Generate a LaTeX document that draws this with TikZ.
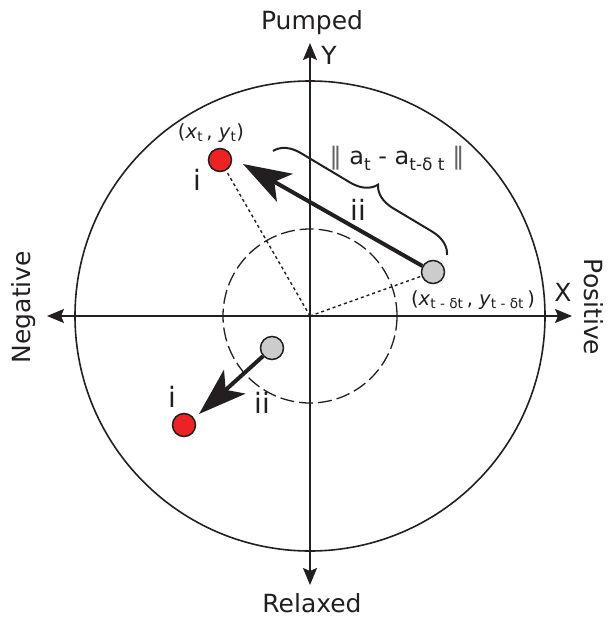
\documentclass[tikz,border=0pt]{standalone}
\usepackage{fontspec}
\setmainfont{DejaVu Sans}
\usetikzlibrary{arrows.meta,decorations.pathreplacing}
\definecolor{ink}{HTML}{231F20}
\definecolor{dotred}{HTML}{ED2224}
\definecolor{dotgray}{HTML}{CCCCCC}
\newcommand{\lowsub}[1]{\raisebox{-0.45ex}{\fontsize{17}{18}\selectfont #1}}
\tikzset{
  lbl/.style={text=ink, inner sep=0pt, font=\fontsize{25}{30}\selectfont},
  numlbl/.style={text=ink, inner sep=0pt, font=\fontsize{28}{32}\selectfont},
  small/.style={text=ink, inner sep=0pt, font=\fontsize{19.5}{22}\selectfont},
  axis/.style={draw=ink, line width=1.5pt, {Stealth[length=17pt,width=14pt,inset=3pt]}-{Stealth[length=17pt,width=14pt,inset=3pt]}},
  ring/.style={circle, draw=ink, line width=1.6pt, inner sep=0pt},
  dashring/.style={circle, draw=ink, line width=1.3pt, inner sep=0pt, dash pattern=on 14pt off 5pt},
  dotline/.style={draw=ink, line width=1.4pt, dash pattern=on 3pt off 3pt},
  reddot/.style={circle, draw=ink, fill=dotred, line width=1.5pt, minimum size=23pt, inner sep=0pt},
  graydot/.style={circle, draw=ink, fill=dotgray, line width=1.5pt, minimum size=23pt, inner sep=0pt},
  move/.style={draw=ink, line width=4pt, -{Stealth[length=48pt,width=32pt,inset=12pt]}},
}
\begin{document}
\begin{tikzpicture}[x=1pt,y=-1pt]
\useasboundingbox (0,0) rectangle (608,617);
\coordinate (o) at (310,316);
\coordinate (xl) at (47,316);
\coordinate (xr) at (572,316);
\coordinate (yt) at (310,43);
\coordinate (yb) at (310,585);
% circles
\node[ring, minimum size=470pt] (big) at (o) {};
\node[dashring, minimum size=174pt] (small) at (o) {};
% axes
\draw[axis] (xl) -- (xr);
\draw[axis] (yb) -- (yt);
% dots
\node[reddot] (r1) at (220,160) {};
\node[graydot] (g1) at (433,272) {};
\node[graydot] (g2) at (272,348) {};
\node[reddot] (r2) at (184,425) {};
% dotted radii
\draw[dotline] (o) -- (r1);
\draw[dotline] (o) -- (g1);
% movement arrows
\coordinate (t1) at (243,164);
\coordinate (t2) at (199,414);
\draw[move] (g1) -- (t1);
\draw[move] (g2) -- (t2);
% brace
\coordinate (b1) at (273,151);
\coordinate (b2) at (447,255);
\draw[draw=ink, line width=2pt, decorate, decoration={brace, amplitude=25pt, aspect=0.53}] (b1) -- (b2);
% labels
\node[lbl] (pumped) at (312,23) {Pumped};
\node[lbl] (relaxed) at (312,603) {Relaxed};
\node[lbl] (ylab) at (329,55) {Y};
\node[lbl] (xlab) at (563,292) {X};
\node[lbl, rotate=90] (neg) at (24,307) {Negative};
\node[lbl, rotate=-90] (pos) at (594,307) {Positive};
\node[numlbl] (i1) at (197,180) {i};
\node[numlbl] (ii1) at (358,210) {ii};
\node[numlbl] (i2) at (172,397) {i};
\node[numlbl] (ii2) at (262,403) {ii};
\node[small] (xy1) at (211,133) {(\textit{x}\textsubscript{t}\,, \textit{y}\textsubscript{t})};
\node[small] (xy2) at (473,300) {(\textit{x}\textsubscript{t - δt}\,, \textit{y}\textsubscript{t - δt}\,)};
\node[text=ink, inner sep=0pt, font=\fontsize{24}{28}\selectfont] (norm) at (397,158) {{\color{ink!70}‖} a\lowsub{t} - a\lowsub{t-δ t} {\color{ink!70}‖}};
\end{tikzpicture}
\end{document}
